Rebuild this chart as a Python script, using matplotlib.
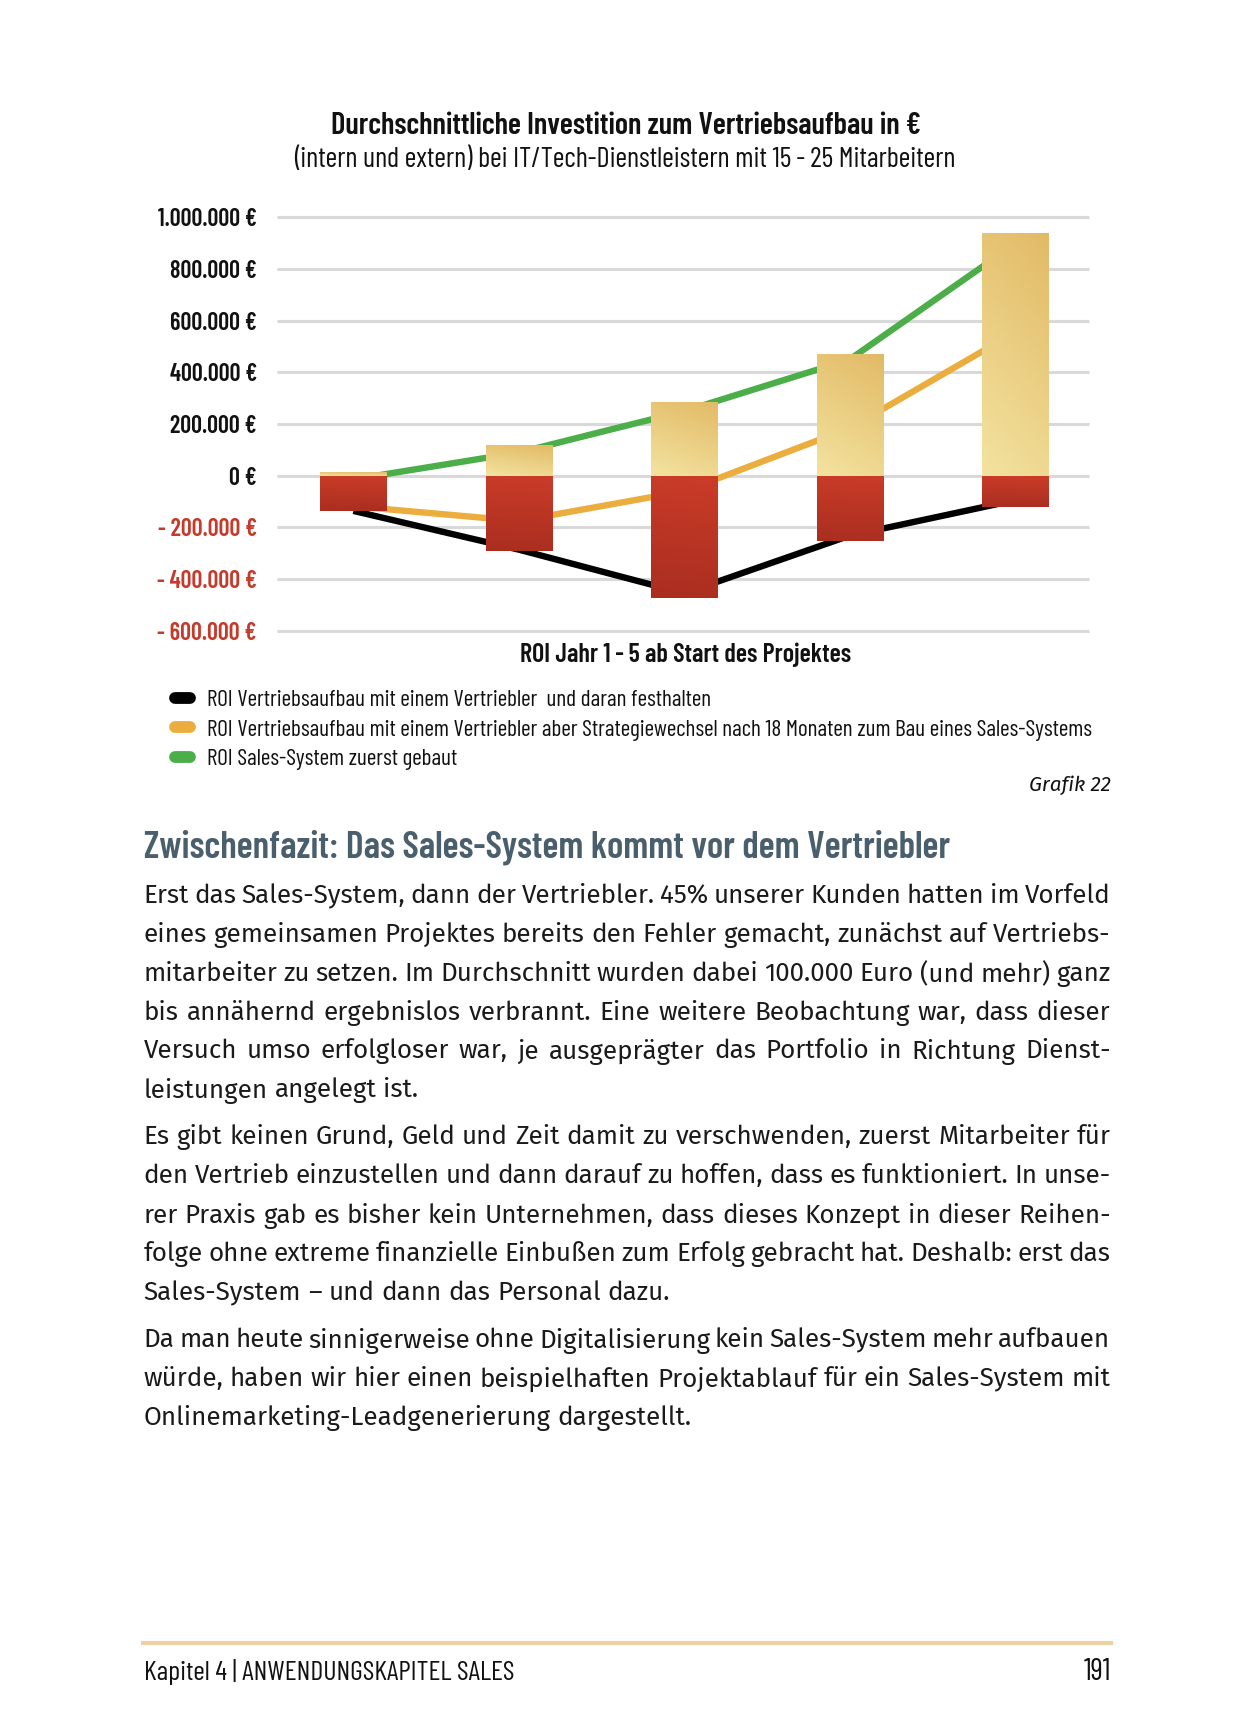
import matplotlib
matplotlib.use("Agg")
import matplotlib.pyplot as plt
import numpy as np
from matplotlib import font_manager
from matplotlib.colors import to_rgb
from matplotlib.lines import Line2D

# ---- data ----
jahre = ["Jahr 1", "Jahr 2", "Jahr 3", "Jahr 4", "Jahr 5"]
invest_plus = [14000, 118000, 287000, 470000, 938000]
invest_minus = [-135000, -291000, -474000, -252000, -120000]
roi_vertriebler = [-136000, -286000, -455000, -232000, -95000]
roi_wechsel = [-118000, -175000, -60000, 184000, 555000]
roi_system = [-14000, 90000, 250000, 450000, 898000]
serien_namen = [
    "ROI Vertriebsaufbau mit einem Vertriebler  und daran festhalten",
    "ROI Vertriebsaufbau mit einem Vertriebler aber Strategiewechsel nach 18 Monaten zum Bau eines Sales-Systems",
    "ROI Sales-System zuerst gebaut",
]
y_ticks = [-600000, -400000, -200000, 0, 200000, 400000, 600000, 800000, 1000000]

titel = "Durchschnittliche Investition zum Vertriebsaufbau in €"
untertitel = "(intern und extern) bei IT/Tech-Dienstleistern mit 15\u2009-\u200925 Mitarbeitern"
x_titel = "ROI Jahr 1\u2009-\u20095 ab Start des Projektes"
ueberschrift = "Zwischenfazit: Das Sales-System kommt vor dem Vertriebler"
absaetze = [
    ["Erst das Sales-System, dann der Vertriebler. 45% unserer Kunden hatten im Vorfeld",
     "eines gemeinsamen Projektes bereits den Fehler gemacht, zunächst auf Vertriebs-",
     "mitarbeiter zu setzen. Im Durchschnitt wurden dabei 100.000 Euro (und mehr) ganz",
     "bis annähernd ergebnislos verbrannt. Eine weitere Beobachtung war, dass dieser",
     "Versuch umso erfolgloser war, je ausgeprägter das Portfolio in Richtung Dienst-",
     "leistungen angelegt ist."],
    ["Es gibt keinen Grund, Geld und Zeit damit zu verschwenden, zuerst Mitarbeiter für",
     "den Vertrieb einzustellen und dann darauf zu hoffen, dass es funktioniert. In unse-",
     "rer Praxis gab es bisher kein Unternehmen, dass dieses Konzept in dieser Reihen-",
     "folge ohne extreme finanzielle Einbußen zum Erfolg gebracht hat. Deshalb: erst das",
     "Sales-System – und dann das Personal dazu."],
    ["Da man heute sinnigerweise ohne Digitalisierung kein Sales-System mehr aufbauen",
     "würde, haben wir hier einen beispielhaften Projektablauf für ein Sales-System mit",
     "Onlinemarketing-Leadgenerierung dargestellt."],
]

# ---- fonts ----
names = {f.name for f in font_manager.fontManager.ttflist}
cond_found = [f.name for f in font_manager.fontManager.ttflist
              if f.stretch in ("condensed", "semi-condensed", "extra-condensed")]


def pick(cands, fallback):
    for c in cands:
        if c in names:
            return c
    return fallback


COND = pick(["Barlow Condensed", "Roboto Condensed", "Fira Sans Condensed", "Open Sans Condensed",
             "Noto Sans Condensed", "Liberation Sans Narrow", "DejaVu Sans Condensed"],
            cond_found[0] if cond_found else "Roboto")
BODY = pick(["Fira Sans", "Open Sans", "Noto Sans", "Lato"], "DejaVu Sans")

W, H = 1246, 1726
fig = plt.figure(figsize=(W / 100, H / 100), dpi=100)
fig.patch.set_facecolor("white")
renderer = fig.canvas.get_renderer()


def fx(x):
    return x / W


def fy(y):
    return 1 - y / H


def fit(s, target, **kw):
    t = fig.text(0, 0, s, fontsize=20, **kw)
    w = t.get_window_extent(renderer).width
    t.remove()
    return 20 * target / w


cond_kw = dict(family=[COND, "DejaVu Sans"], fontstretch="condensed")

# ---- chart ----
ax = fig.add_axes([fx(270.7), fy(635.9), (1097.7 - 270.7) / W, (635.9 - 212.3) / H])
x = np.arange(len(jahre))

gold_top, gold_bot = np.array(to_rgb("#E2BA66")), np.array(to_rgb("#F3E3A0"))
red_top, red_bot = np.array(to_rgb("#CA3C28")), np.array(to_rgb("#AA2E20"))


def gradient(c_top, c_bot, tilt):
    t = np.linspace(0, 1, 80)[:, None]
    u = np.linspace(0, 1, 40)[None, :]
    mix = np.clip((1 - tilt) * t + tilt * (1 - u), 0, 1)
    return c_top * (1 - mix)[..., None] + c_bot * mix[..., None]


for vals, ct, cb, tilt in [(invest_plus, gold_top, gold_bot, 0.25), (invest_minus, red_top, red_bot, 0.05)]:
    bars = ax.bar(x, vals, 0.4, color=cb, zorder=3, linewidth=0)
    for rect in bars:
        y0 = rect.get_y()
        y1 = y0 + rect.get_height()
        img = ax.imshow(gradient(ct, cb, tilt), origin="upper", aspect="auto", zorder=3.1,
                        interpolation="bilinear",
                        extent=(rect.get_x(), rect.get_x() + rect.get_width(), min(y0, y1), max(y0, y1)))
        img.set_clip_path(rect)

linien = [roi_vertriebler, roi_wechsel, roi_system]
farben = ["#000000", "#EAAD3E", "#4BAE48"]
for vals, c in zip(linien, farben):
    ax.plot(x, vals, color=c, lw=4.6, zorder=2, solid_joinstyle="miter", solid_capstyle="butt")

ax.hlines(y_ticks, -0.46, 4.45, color="#D9D9D9", lw=2.2, zorder=0)
ax.set_xlim(-0.5, 4.5)
ax.set_ylim(-620000, 1020000)
ax.set_xticks([])
ax.set_yticks(y_ticks)
for s in ax.spines.values():
    s.set_visible(False)


def euro(v):
    s = f"{abs(v):,.0f}".replace(",", ".") + " €"
    return "- " + s if v < 0 else s


tick_fs = fit("1.000.000 €", 98, fontweight="semibold", **cond_kw)
ax.set_yticklabels([euro(v) for v in y_ticks])
ax.tick_params(axis="y", length=0, pad=10)
for lab, v in zip(ax.get_yticklabels(), y_ticks):
    lab.set_fontsize(tick_fs)
    lab.set_fontweight("semibold")
    lab.set_family([COND, "DejaVu Sans"])
    lab.set_fontstretch("condensed")
    lab.set_color("#C53A2B" if v < 0 else "#111111")

# titles
fs = fit(titel, 590, fontweight="semibold", **cond_kw)
fig.text(fx(626), fy(123.5), titel, fontsize=fs, fontweight="semibold", ha="center", va="center_baseline",
         color="#111111", **cond_kw)
fs = fit(untertitel, 665, **cond_kw)
fig.text(fx(625), fy(156.6), untertitel, fontsize=fs, ha="center", va="center_baseline",
         color="#111111", **cond_kw)
fs = fit(x_titel, 329, fontweight="semibold", **cond_kw)
fig.text(fx(685.5), fy(652), x_titel, fontsize=fs, fontweight="semibold", ha="center", va="center_baseline",
         color="#111111", **cond_kw)

# legend
leg_fs = fit(serien_namen[1], 890, **cond_kw)
for i, (name, c) in enumerate(zip(serien_namen, farben)):
    yy = 697.5 + i * 30
    fig.add_artist(Line2D([fx(175), fx(190)], [fy(yy), fy(yy)], lw=8.5, color=c, solid_capstyle="round"))
    fig.text(fx(207), fy(yy), name, fontsize=leg_fs, ha="left", va="center_baseline",
             color="#111111", **cond_kw)

fs = fit("Grafik 22", 82, family=BODY, style="italic")
fig.text(fx(1111), fy(783), "Grafik 22", fontsize=fs, family=BODY, style="italic",
         ha="right", va="center_baseline", color="#111111")

# ---- text below ----
L, R = 143.5, 1110.5
fs = fit(ueberschrift, 805, fontweight="semibold", **cond_kw)
fig.text(fx(L), fy(843.5), ueberschrift, fontsize=fs, fontweight="semibold", ha="left",
         va="center_baseline", color="#4A5F6D", **cond_kw)

body_fs = fit("leistungen angelegt ist.", 274.5, family=BODY)


def width_of(s):
    t = fig.text(0, 0, s, fontsize=body_fs, family=BODY)
    w = t.get_window_extent(renderer).width
    t.remove()
    return w


space_w = width_of("n n") - width_of("nn")

zeilen_y = [[893.5, 932, 971.5, 1010, 1048.5, 1087.5],
            [1134.5, 1173.5, 1213, 1251.5, 1290.5],
            [1337.5, 1376.5, 1415]]
for absatz, ys in zip(absaetze, zeilen_y):
    for k, (zeile, yy) in enumerate(zip(absatz, ys)):
        words = zeile.split(" ")
        texts = [fig.text(0, fy(yy), w, fontsize=body_fs, family=BODY, ha="left",
                          va="center_baseline", color="#1A1A1A") for w in words]
        widths = [t.get_window_extent(renderer).width for t in texts]
        last = k == len(absatz) - 1
        gap = space_w if last else (R - L - sum(widths)) / (len(words) - 1)
        xx = L
        for t, ww in zip(texts, widths):
            t.set_x(fx(xx))
            xx += ww + gap

# footer
fig.add_artist(Line2D([fx(143), fx(1111)], [fy(1643), fy(1643)], lw=3, color="#EAD2A4"))
fuss = "Kapitel 4 | ANWENDUNGSKAPITEL SALES"
fs = fit(fuss, 370, **cond_kw)
fig.text(fx(143.5), fy(1669), fuss, fontsize=fs, ha="left", va="center_baseline", color="#111111", **cond_kw)
fig.text(fx(1111), fy(1669), "191", fontsize=fs * 1.08, ha="right",
         va="center_baseline", color="#111111", **cond_kw)

fig.savefig("out.png", dpi=100, facecolor="white")
